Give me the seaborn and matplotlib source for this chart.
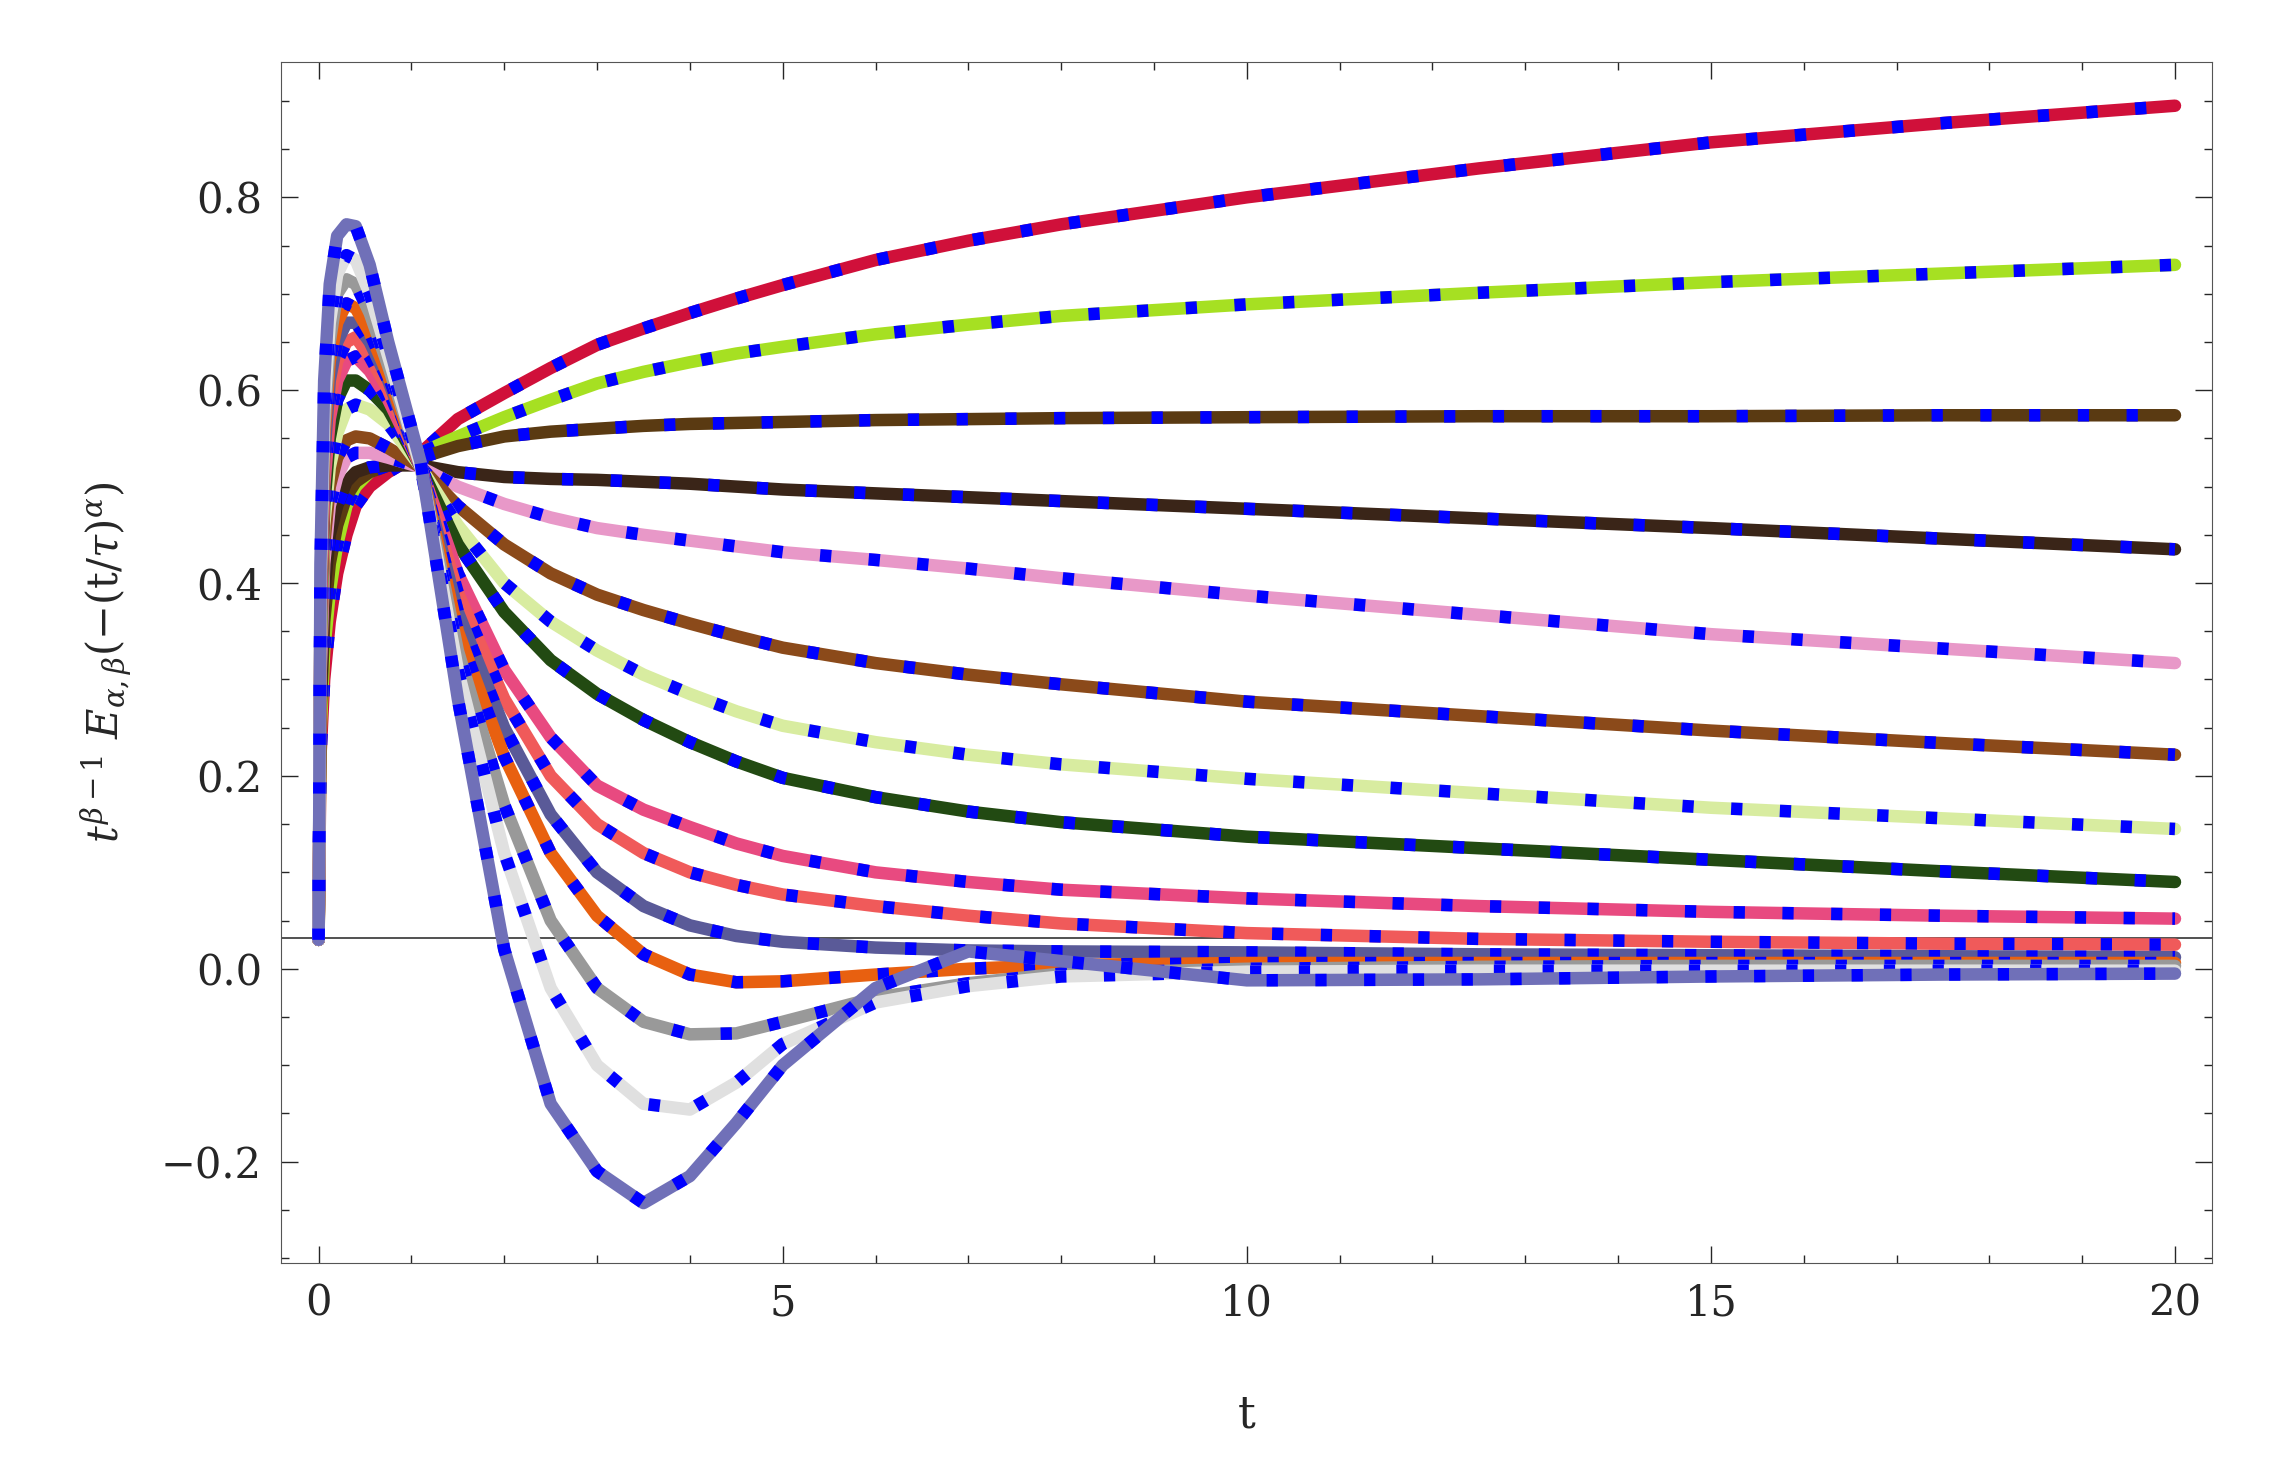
import numpy as np
import pandas as pd
import seaborn as sns
import matplotlib.pyplot as plt

sns.set_style("ticks")
plt.rcParams['font.family'] = ['DejaVu Serif']
plt.rcParams['mathtext.fontset'] = 'dejavuserif'

# sample times
t = [0, 0.02, 0.06, 0.12, 0.2, 0.3, 0.4, 0.55, 0.75, 1.1, 1.5, 2, 2.5, 3, 3.5, 4, 4.5, 5,
     6, 7, 8, 10, 12.5, 15, 17.5, 20]

colors = ["#d0103a", "#a6e022", "#5a3a12", "#3a2518", "#e898c8", "#8b4a1a", "#d8eca0",
          "#224a12", "#e84a80", "#f05a5a", "#5a5a98", "#e86010", "#999999", "#e0e0e0", "#7070b8"]

red = [0.03, .22, .30, .36, .41, .45, .48, .50, .515, .535, .57, .597, .623, .647, .664, .68, .695, .709, .735, .755, .772, .80, .83, .857, .877, .895]
lime = [0.03, .24, .33, .39, .44, .48, .50, .515, .525, .535, .552, .572, .59, .607, .619, .629, .638, .645, .658, .668, .677, .689, .701, .712, .721, .73]
brown = [0.03, .26, .36, .42, .46, .49, .505, .515, .522, .53, .542, .552, .557, .56, .563, .565, .566, .567, .569, .570, .571, .572, .573, .573, .574, .574]
dark_brown = [0.03, .28, .39, .45, .48, .505, .515, .52, .522, .522, .515, .51, .508, .507, .505, .503, .50, .497, .493, .489, .485, .477, .467, .457, .446, .435]
pink = [0.03, .30, .42, .48, .51, .53, .535, .535, .53, .52, .50, .482, .468, .457, .450, .444, .438, .432, .424, .415, .405, .387, .367, .347, .332, .317]
brown2 = [0.03, .32, .44, .50, .53, .548, .552, .55, .54, .52, .48, .44, .41, .388, .372, .358, .345, .333, .317, .305, .295, .277, .262, .247, .234, .222]
pale_green = [0.03, .33, .46, .52, .555, .58, .585, .58, .565, .52, .46, .40, .36, .33, .305, .285, .267, .252, .235, .222, .212, .197, .182, .167, .156, .145]
dark_green = [0.03, .34, .48, .55, .59, .61, .61, .60, .58, .52, .44, .37, .32, .285, .258, .235, .215, .198, .178, .163, .152, .137, .125, .113, .101, .09]
pink_red = [0.03, .35, .50, .57, .61, .63, .635, .62, .59, .52, .41, .31, .24, .19, .165, .147, .13, .117, .10, .09, .082, .073, .065, .059, .055, .052]
coral = [0.03, .36, .52, .59, .63, .65, .655, .635, .60, .52, .39, .28, .20, .15, .12, .10, .087, .077, .065, .055, .047, .037, .031, .028, .026, .025]
navy = [0.03, .37, .53, .61, .65, .67, .67, .65, .61, .52, .37, .25, .16, .10, .065, .045, .034, .028, .022, .019, .018, .017, .015, .014, .013, .012]
orange = [0.03, .38, .55, .63, .67, .69, .685, .66, .615, .52, .35, .22, .12, .055, .015, -.006, -.014, -.013, -.006, 0.0, .004, .006, .006, .006, .006, .006]
gray = [0.03, .39, .56, .65, .70, .715, .71, .68, .625, .52, .33, .17, .05, -.02, -.055, -.068, -.067, -.055, -.03, -.015, -.005, 0.0, .002, .003, .003, .003]
light_gray = [0.03, .40, .58, .67, .72, .74, .735, .70, .635, .52, .31, .12, -.02, -.10, -.14, -.146, -.118, -.078, -.035, -.018, -.008, -.003, -.002, -.002, -.002, -.002]
lavender = [0.03, .42, .61, .71, .76, .772, .77, .73, .65, .525, .28, .02, -.14, -.21, -.243, -.215, -.16, -.10, -.02, .018, .008, -.012, -.011, -.008, -.006, -.005]

curves = [red, lime, brown, dark_brown, pink, brown2, pale_green, dark_green,
          pink_red, coral, navy, orange, gray, light_gray, lavender]

fig = plt.figure(figsize=(22.7, 14.84), dpi=100)
ax = fig.add_axes([0.124, 0.149, 0.8505, 0.809])

for c, y in zip(colors, curves):
    df = pd.DataFrame({"t": t, "y": y})
    sns.lineplot(data=df, x="t", y="y", color=c, lw=9, ax=ax, sort=False,
                 solid_joinstyle="round")
    sns.lineplot(data=df, x="t", y="y", color="#0000ff", lw=9, ax=ax, sort=False,
                 linestyle=(0, (0.9, 3.0)), dash_capstyle="butt")

ax.axhline(0.032, color="#333333", lw=1.2, zorder=0)
ax.set_xlim(-0.4, 20.4)
ax.set_ylim(-0.305, 0.94)
ax.set_xticks([0, 5, 10, 15, 20])
ax.set_xticks(np.arange(0, 20.5, 1), minor=True)
ax.set_yticks([-0.2, 0.0, 0.2, 0.4, 0.6, 0.8])
ax.set_yticklabels(["\u22120.2", "0.0", "0.2", "0.4", "0.6", "0.8"])
ax.set_yticks(np.arange(-0.3, 0.95, 0.05), minor=True)
ax.tick_params(direction="in", top=True, right=True, length=12, width=1, labelsize=30, pad=14)
ax.tick_params(which="minor", direction="in", top=True, right=True, length=6, width=1)
for s in ax.spines.values():
    s.set_color("#555555")
ax.set_xlabel("t", fontsize=32, labelpad=50)
ax.set_ylabel(r"$t^{\beta-1}\ E_{\alpha,\beta}(-(\mathrm{t}/\tau)^{\alpha})$", fontsize=30, labelpad=20)

fig.savefig("out.png", dpi=100)
